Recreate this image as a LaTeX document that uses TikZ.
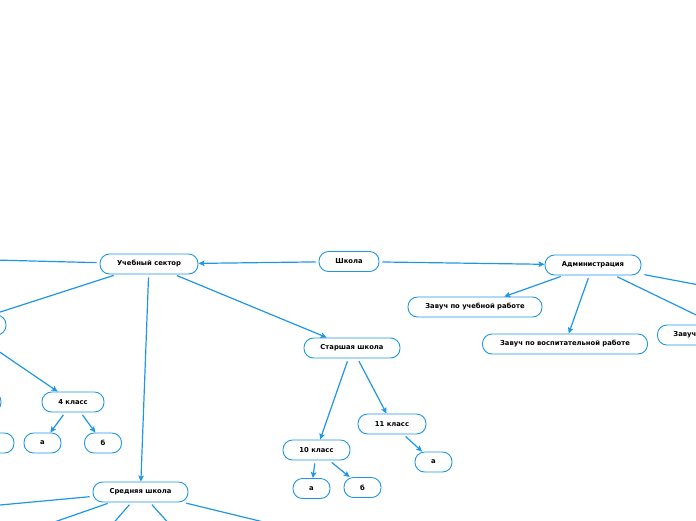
\documentclass[tikz,border=0pt]{standalone}
\usepackage{fontspec}
\setmainfont{DejaVu Sans}
\usetikzlibrary{arrows.meta}
\definecolor{lineblue}{RGB}{30,150,230}
\tikzset{
  box/.style={draw=lineblue, line width=0.9pt, fill=white, rounded corners=9.5pt,
    minimum height=20pt, inner xsep=0pt, inner ysep=0pt,
    font=\fontsize{6.8}{7.5}\selectfont\bfseries, text=black},
  conn/.style={draw=lineblue, line width=1.2pt, shorten <=3pt},
  arr/.style={conn, -{Stealth[length=6pt,width=5.5pt,inset=1.2pt]}}
}
\begin{document}
\begin{tikzpicture}[x=1pt,y=-1pt]
\useasboundingbox (0,0) rectangle (696,520);
\clip (0,0) rectangle (696,520);
% nodes
\node[box, minimum width=60] (shkola) at (349,261.5) {Школа};
\node[box, minimum width=98] (uch) at (149,264) {Учебный сектор};
\node[box, minimum width=96] (adm) at (593,265) {Администрация};
\node[box, minimum width=134] (zu) at (475,307) {Завуч по учебной работе};
\node[box, minimum width=165] (zv) at (565,344) {Завуч по воспитательной работе};
\node[box, anchor=west, text width=128pt, align=left, inner xsep=16pt] (zh) at (657,335) {Завуч};
\node[box, minimum width=96] (star) at (352,348) {Старшая школа};
\node[box, minimum width=68] (k11) at (392,424) {11 класс};
\node[box, minimum width=67] (k10) at (316.5,450) {10 класс};
\node[box, minimum width=37] (a10) at (311.5,488.5) {а};
\node[box, minimum width=37] (b10) at (362.5,487.5) {б};
\node[box, minimum width=37] (a11) at (433.5,462) {а};
\node[box, minimum width=62] (k4) at (73,402) {4 класс};
\node[box, minimum width=37] (a4) at (42.5,443) {а};
\node[box, minimum width=37] (b4) at (103,443) {б};
\node[box, minimum width=92] (k3) at (-40,325) {};
\node[box, minimum width=82] (k2) at (-40,402) {};
\node[box, minimum width=37] (b3) at (-4.5,443) {};
\node[box, minimum width=95] (sred) at (140.5,492) {Средняя школа};
% free ends
\coordinate (uL) at (-60,258.6);
\coordinate (s1) at (-40,508.7);
\coordinate (s2) at (40,527);
\coordinate (s3) at (110,527);
\coordinate (s4) at (172,527);
\coordinate (s5) at (280,526);
\coordinate (ar1) at (740,346);
\coordinate (ar2) at (740,292.7);
% connectors
\draw[arr] (shkola) -- (uch);
\draw[arr] (shkola) -- (adm);
\draw[conn] (uch) -- (uL);
\draw[arr] (uch) -- (k3);
\draw[arr] (uch) -- (sred);
\draw[arr] (uch) -- (star);
\draw[arr] (k3) -- (k4);
\draw[arr] (k4) -- (a4);
\draw[arr] (k4) -- (b4);
\draw[arr] (star) -- (k10);
\draw[arr] (star) -- (k11);
\draw[arr] (k10) -- (a10);
\draw[arr] (k10) -- (b10);
\draw[arr] (k11) -- (a11);
\draw[arr] (adm) -- (zu);
\draw[arr] (adm) -- (zv);
\draw[arr] (adm) -- (zh);
\draw[conn] (adm) -- (ar2);
\draw[conn] (sred) -- (s1);
\draw[conn] (sred) -- (s2);
\draw[conn] (sred) -- (s3);
\draw[conn] (sred) -- (s4);
\draw[conn] (sred) -- (s5);
\end{tikzpicture}
\end{document}
